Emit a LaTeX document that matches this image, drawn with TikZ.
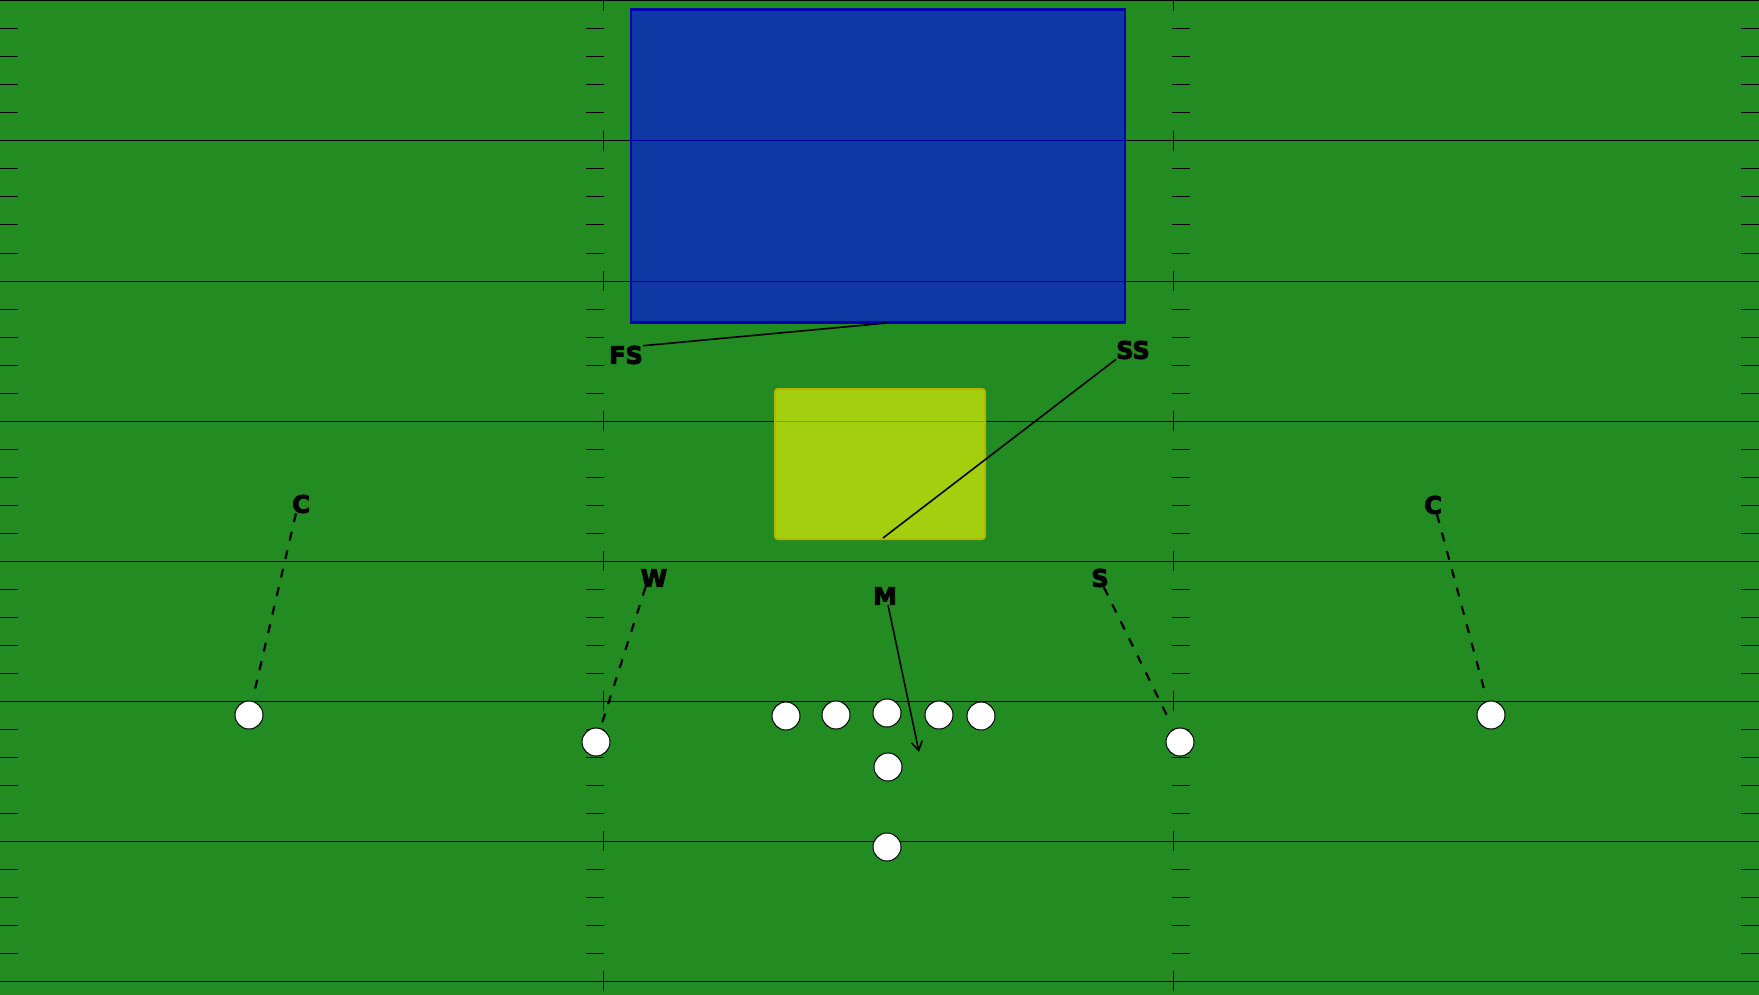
\documentclass[tikz,border=0pt]{standalone}
\usepackage{fontspec}
\setmainfont{DejaVu Sans}
\newfontfamily\heavyfont[BoldFeatures={FakeBold=4}]{DejaVu Sans}
\usetikzlibrary{arrows.meta}
\definecolor{field}{RGB}{34,139,34}
\definecolor{zoneblue}{RGB}{0,0,255}
\definecolor{zoneblueedge}{RGB}{0,0,170}
\definecolor{zoneyellow}{RGB}{255,255,0}
\definecolor{zoneyellowedge}{RGB}{185,180,0}
\begin{document}
\begin{tikzpicture}[x=1pt,y=-1pt,
  yardline/.style={black,line width=1pt},
  hashmark/.style={black,line width=1pt},
  player/.style={circle,draw=black,fill=white,line width=1pt,minimum size=28pt,inner sep=0pt},
  lbl/.style={font=\fontsize{24}{28}\heavyfont\bfseries,inner sep=0pt,text=black},
  route/.style={black,line width=2.2pt,dash pattern=on 9pt off 10pt},
  readline/.style={black,line width=1.6pt},
  blitz/.style={black,line width=1.6pt,-{Straight Barb[length=9pt,width=11pt]}},
  deepzone/.style={draw=zoneblueedge,line width=2.5pt,fill=zoneblue,fill opacity=0.59,minimum width=494pt,minimum height=313pt,inner sep=0pt},
  hookzone/.style={draw=zoneyellowedge,line width=2pt,rounded corners=3pt,fill=zoneyellow,fill opacity=0.59,minimum width=210pt,minimum height=150pt,inner sep=0pt}
]
\useasboundingbox (0,0) rectangle (1759,995);
\fill[field] (0,0) rectangle (1759,995);

% yard lines and hash marks
\foreach \k in {0,...,7} {
  \draw[yardline] (0,{140*\k+1}) -- (1759,{140*\k+1});
  \draw[hashmark] (603,{140*\k+1-10}) -- (603,{140*\k+1+10});
  \draw[hashmark] (1173,{140*\k+1-10}) -- (1173,{140*\k+1+10});
}
\foreach \b in {0,...,6} {
  \foreach \j in {1,...,4} {
    \draw[hashmark] (0,{140*\b+28*\j+1}) -- (18,{140*\b+28*\j+1});
    \draw[hashmark] (586,{140*\b+28*\j+1}) -- (604,{140*\b+28*\j+1});
    \draw[hashmark] (1172,{140*\b+28*\j+1}) -- (1190,{140*\b+28*\j+1});
    \draw[hashmark] (1741,{140*\b+28*\j+1}) -- (1759,{140*\b+28*\j+1});
  }
}

% zones
\node[deepzone] (deep) at (878,166) {};
\node[hookzone] (hook) at (880,464) {};

% labels
\node[lbl] (FS) at (626,355) {FS};
\node[lbl] (SS) at (1133,350) {SS};
\node[lbl] (CL) at (301,504) {C};
\node[lbl] (CR) at (1433,505) {C};
\node[lbl] (W) at (654,578) {W};
\node[lbl] (S) at (1100,578) {S};
\node[lbl] (M) at (885,596) {M};

% players
\node[player] (cbL) at (249,715) {};
\node[player] (cbR) at (1491,715) {};
\node[player] (wrL) at (596,742) {};
\node[player] (wrR) at (1180,742) {};
\node[player] (lt) at (786,716) {};
\node[player] (lg) at (836,715) {};
\node[player] (ctr) at (887,713) {};
\node[player] (rg) at (939,715) {};
\node[player] (rt) at (981,716) {};
\node[player] (qb) at (888,767) {};
\node[player] (rb) at (887,847) {};

% connector ends
\coordinate (fsend) at (887,323);
\coordinate (ssend) at (883,538);
\coordinate (mend) at (919,752);

% connectors
\draw[readline] (FS.north east) -- (fsend);
\draw[readline] (SS.south west) -- (ssend);
\draw[route,shorten >=4pt] ([xshift=-5pt]CL.south) -- (cbL);
\draw[route,shorten >=8pt] ([xshift=4pt]CR.south) -- (cbR);
\draw[route] ([xshift=5pt]W.south west) -- (wrL);
\draw[route,shorten >=6pt] ([xshift=-5pt]S.south east) -- (wrR);
\draw[blitz] ([xshift=3pt]M.south) -- (mend);
\end{tikzpicture}
\end{document}
